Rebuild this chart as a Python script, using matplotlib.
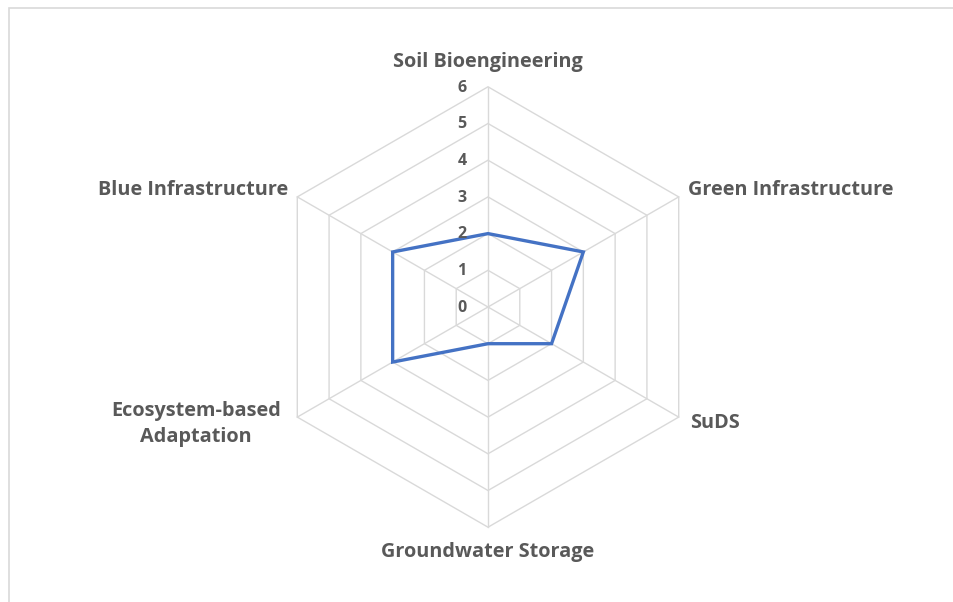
import numpy as np
import matplotlib.pyplot as plt

categories = ["Soil Bioengineering", "Green Infrastructure", "SuDS",
              "Groundwater Storage", "Ecosystem-based\nAdaptation", "Blue Infrastructure"]
values = [2, 3, 2, 1, 3, 3]
ticks = [0, 1, 2, 3, 4, 5, 6]

plt.rcParams['font.family'] = ['Open Sans', 'DejaVu Sans']
grey = '#595959'

fig = plt.figure(figsize=(9.54, 6.02), dpi=100)
ax = fig.add_axes([0, 0, 1, 1])
ax.set_axis_off()
px = 36.7  # pixels per unit
ax.set_xlim(-488 / px, (954 - 488) / px)
ax.set_ylim(-(602 - 307) / px, 307 / px)

# chart border
fig.patches.append(plt.Rectangle((9 / 954, -0.1), 1.2, (602 - 7.5) / 602 + 0.1,
                                 transform=fig.transFigure, fill=False,
                                 edgecolor='#d9d9d9', lw=1.2))

n = len(categories)
ang = np.deg2rad(90 - 60 * np.arange(n))
ca, sa = np.cos(ang), np.sin(ang)

# hexagonal gridlines and spokes
for t in ticks[1:]:
    ax.add_patch(plt.Polygon(np.c_[t * ca, t * sa], closed=True, fill=False,
                             edgecolor='#d9d9d9', lw=1, zorder=1))
for i in range(n):
    ax.plot([0, ticks[-1] * ca[i]], [0, ticks[-1] * sa[i]], color='#d9d9d9', lw=1, zorder=1)

# data
v = np.array(values, dtype=float)
ax.add_patch(plt.Polygon(np.c_[v * ca, v * sa], closed=True, fill=False,
                         edgecolor='#4472C4', lw=2.4, zorder=3, joinstyle='miter'))

# tick labels
for t in ticks:
    ax.text(-26 / px, t - 0.02, str(t), ha='center', va='center',
            fontsize=11.5, fontweight='bold', color=grey, zorder=4)

# category labels
lab_kw = dict(fontsize=14.3, fontweight='bold', color=grey)
R = ticks[-1]
ax.text(0, R + 25 / px, categories[0], ha='center', va='center', **lab_kw)
ax.text(R * ca[1] + 9 / px, R * sa[1] + 7 / px, categories[1], ha='left', va='center', **lab_kw)
ax.text(R * ca[2] + 11 / px, R * sa[2] - 6 / px, categories[2], ha='left', va='center', **lab_kw)
ax.text(0, -R - 25 / px, categories[3], ha='center', va='center', **lab_kw)
ax.text(R * ca[4] - 101 / px, R * sa[4] - 7 / px, categories[4], ha='center', va='center',
        linespacing=1.4, **lab_kw)
ax.text(R * ca[5] - 9 / px, R * sa[5] + 7 / px, categories[5], ha='right', va='center', **lab_kw)

fig.savefig('out.png', dpi=100)
